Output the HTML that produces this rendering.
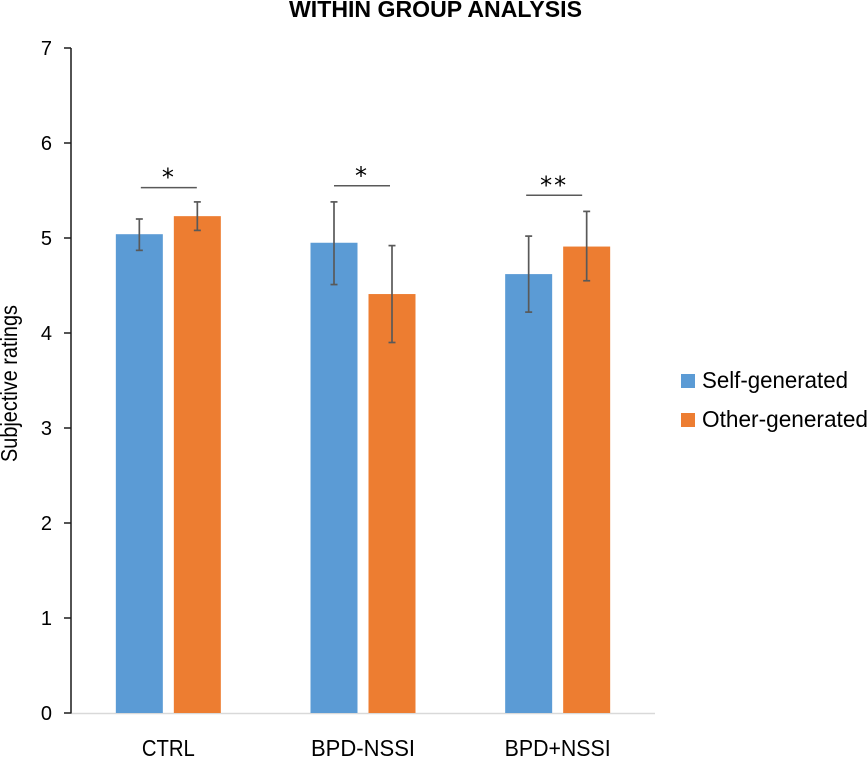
<!DOCTYPE html>
<html lang="en">
<head>
<meta charset="utf-8">
<title>Within group analysis</title>
<style>
html,body{margin:0;padding:0;background:#fff;}
svg{display:block;font-family:"Liberation Sans",sans-serif;}
</style>
</head>
<body>
<svg id="chart" xmlns="http://www.w3.org/2000/svg" width="868" height="757" viewBox="0 0 868 757">
<text x="289" y="17" font-size="23" font-weight="bold" fill="#000" textLength="293" lengthAdjust="spacingAndGlyphs">WITHIN GROUP ANALYSIS</text>
<text transform="translate(17,462) rotate(-90)" font-size="23" fill="#000" textLength="157" lengthAdjust="spacingAndGlyphs">Subjective ratings</text>
<g>
<rect x="681" y="374" width="14" height="14" fill="#5B9BD5"/>
<text x="702" y="388" font-size="23" fill="#000" textLength="146" lengthAdjust="spacingAndGlyphs">Self-generated</text>
<rect x="681" y="413" width="14" height="14" fill="#ED7D31"/>
<text x="702" y="427" font-size="23" fill="#000" textLength="166" lengthAdjust="spacingAndGlyphs">Other-generated</text>
</g>
<g id="plot"></g>
</svg>
<script>
const categories = ["CTRL", "BPD-NSSI", "BPD+NSSI"];
const selfValues = [5.04, 4.95, 4.62];
const otherValues = [5.23, 4.41, 4.91];
const selfUpper = [5.20, 5.38, 5.02];
const selfLower = [4.87, 4.51, 4.22];
const otherUpper = [5.38, 4.92, 5.28];
const otherLower = [5.08, 3.90, 4.55];
const yTicks = [0, 1, 2, 3, 4, 5, 6, 7];
const sigLevels = [5.53, 5.55, 5.45];
const sigLabels = ["*", "*", "**"];

const NS = "http://www.w3.org/2000/svg";
const plot = document.getElementById("plot");
const axisLeft = 71, axisRight = 655, axisBottom = 713, axisTop = 48;
const barWidth = 47, barGap = 11;
const sigNudge = [0.5, -1, -3.5];

function yScale(v) {
  return axisBottom - (v - yTicks[0]) / (yTicks[yTicks.length - 1] - yTicks[0]) * (axisBottom - axisTop);
}
function bandCenter(i) {
  return axisLeft + (axisRight - axisLeft) * (i + 0.5) / categories.length;
}
function make(tag, attrs, text) {
  const el = document.createElementNS(NS, tag);
  for (const k in attrs) el.setAttribute(k, attrs[k]);
  if (text !== undefined) el.textContent = text;
  plot.appendChild(el);
  return el;
}
function drawBar(cx, value, upper, lower, color, key) {
  const bar = make("rect", {x: cx - barWidth / 2, y: yScale(value), width: barWidth, height: axisBottom - yScale(value), fill: color});
  
  
  const stem = make("line", {x1: cx, x2: cx, y1: yScale(upper), y2: yScale(lower), stroke: "#595959", "stroke-width": 1.7});
  
  
  [upper, lower].forEach(function (v) {
    const cap = make("line", {x1: cx - 3.5, x2: cx + 3.5, y1: yScale(v), y2: yScale(v), stroke: "#595959", "stroke-width": 1.7});
    
    
  });
}

const xAxis = make("line", {x1: axisLeft, x2: axisRight, y1: axisBottom + 0.5, y2: axisBottom + 0.5, stroke: "#d9d9d9", "stroke-width": 1.5});



categories.forEach(function (name, i) {
  const c = bandCenter(i);
  const offset = (barWidth + barGap) / 2;
  drawBar(c - offset, selfValues[i], selfUpper[i], selfLower[i], "#5B9BD5", "self-" + i);
  drawBar(c + offset, otherValues[i], otherUpper[i], otherLower[i], "#ED7D31", "other-" + i);

  const label = make("text", {x: c, y: 756, "text-anchor": "middle", "font-size": 23, fill: "#000", textLength: [53, 104, 106][i], lengthAdjust: "spacingAndGlyphs"}, name);
  
  

  const sy = yScale(sigLevels[i]);
  const sx = c + sigNudge[i];
  const bracket = make("line", {x1: sx - 28, x2: sx + 28, y1: sy, y2: sy, stroke: "#595959", "stroke-width": 1.5});
  
  
  const star = make("text", {x: sx, y: sy - 2, "text-anchor": "middle", "font-size": 24, "letter-spacing": 2, "font-family": "DejaVu Sans, sans-serif", fill: "#000"}, sigLabels[i]);
  
  
});

const yAxis = make("line", {x1: axisLeft, x2: axisLeft, y1: axisTop, y2: axisBottom + 0.5, stroke: "#1a1a1a", "stroke-width": 1.5});



yTicks.forEach(function (t) {
  const y = yScale(t);
  const tick = make("line", {x1: axisLeft - 7, x2: axisLeft, y1: y, y2: y, stroke: "#1a1a1a", "stroke-width": 1.5});
  
  
  const lab = make("text", {x: 52, y: y + 7, "text-anchor": "end", "font-size": 20, fill: "#000"}, t);
  
  
});
</script>
</body>
</html>
